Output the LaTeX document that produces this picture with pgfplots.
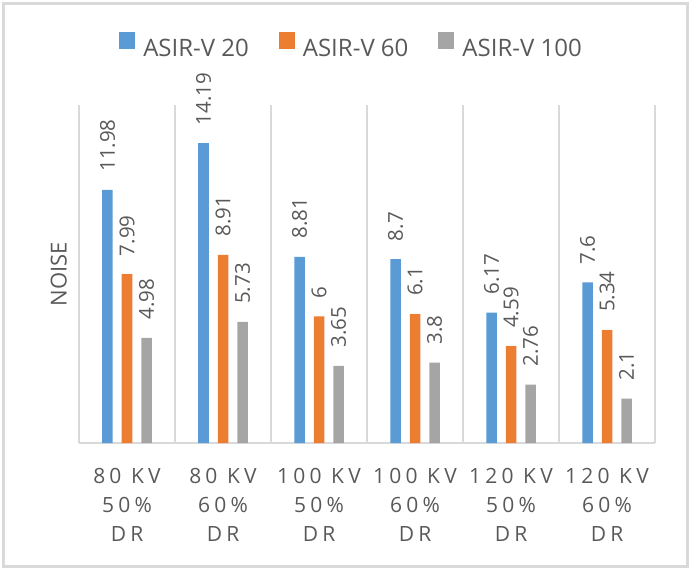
\documentclass[border=0pt]{standalone}
\usepackage{pgfplots}
\pgfplotsset{compat=1.18}
\usepackage{fontspec}
\setmainfont{Open Sans}
\definecolor{barblue}{HTML}{5B9BD5}
\definecolor{barorange}{HTML}{ED7D31}
\definecolor{bargray}{HTML}{A5A5A5}
\definecolor{gridgray}{HTML}{D9D9D9}
\definecolor{txtgray}{HTML}{595959}
\begin{document}
\begin{tikzpicture}
\path[use as bounding box] (0pt,0pt) rectangle (691pt,571pt);
\draw[draw=gridgray, line width=3pt] (3.5pt,5pt) rectangle (687pt,567.5pt);
\begin{axis}[
  at={(79pt,128pt)}, anchor=south west,
  scale only axis, width=576pt, height=338pt,
  ybar=9pt, bar width=10.5pt,
  ymin=0, ymax=16, xmin=-0.5, xmax=5.5,
  axis line style={draw=none},
  xtick={0,1,2,3,4,5},
  xticklabels={{80 KV\\50\%\\DR},{80 KV\\60\%\\DR},{100 KV\\50\%\\DR},{100 KV\\60\%\\DR},{120 KV\\50\%\\DR},{120 KV\\60\%\\DR}},
  xticklabel style={align=center, inner sep=0pt, anchor=north, yshift=-25pt,
    font=\fontsize{21}{29}\selectfont\addfontfeature{LetterSpace=20}, text=txtgray},
  ytick=\empty,
  extra y ticks={0}, extra y tick labels={},
  extra y tick style={grid=major, major grid style={draw=gridgray, line width=2.5pt}},
  major tick length=0pt, minor tick length=0pt,
  minor xtick={-0.5,0.5,1.5,2.5,3.5,4.5,5.5},
  xminorgrids,
  minor grid style={draw=gridgray, line width=2.5pt},
  ylabel={NOISE},
  ylabel style={at={(axis description cs:-0.035,0.5)}, anchor=center,
    font=\fontsize{22}{26}\selectfont, text=txtgray},
  /pgf/number format/assume math mode=true,
  nodes near coords,
  nodes near coords style={rotate=90, anchor=west, inner xsep=18pt, inner ysep=0pt,
    font=\fontsize{20.5}{24}\selectfont, text=txtgray},
  legend style={at={(axis description cs:0.4714,1.1775)}, anchor=center,
    draw=none, fill=none, font=\fontsize{24}{28}\selectfont, text=txtgray,
    /tikz/every even column/.append style={column sep=30pt},
    /tikz/every odd column/.append style={column sep=8pt},
    nodes={inner sep=0pt}},
  legend columns=3,
  legend cell align=left,
]
\addplot[fill=barblue, draw=none,
  legend image code/.code={\fill[barblue] (0pt,-0.5pt) rectangle (16pt,16pt);}]
  coordinates {(0,11.98) (1,14.19) (2,8.81) (3,8.7) (4,6.17) (5,7.6)};
\addplot[fill=barorange, draw=none,
  legend image code/.code={\fill[barorange] (0pt,-0.5pt) rectangle (16pt,16pt);}]
  coordinates {(0,7.99) (1,8.91) (2,6) (3,6.1) (4,4.59) (5,5.34)};
\addplot[fill=bargray, draw=none,
  legend image code/.code={\fill[bargray] (0pt,-0.5pt) rectangle (16pt,16pt);}]
  coordinates {(0,4.98) (1,5.73) (2,3.65) (3,3.8) (4,2.76) (5,2.1)};
\legend{ASIR-V 20, ASIR-V 60, ASIR-V 100}
\end{axis}
\end{tikzpicture}
\end{document}
